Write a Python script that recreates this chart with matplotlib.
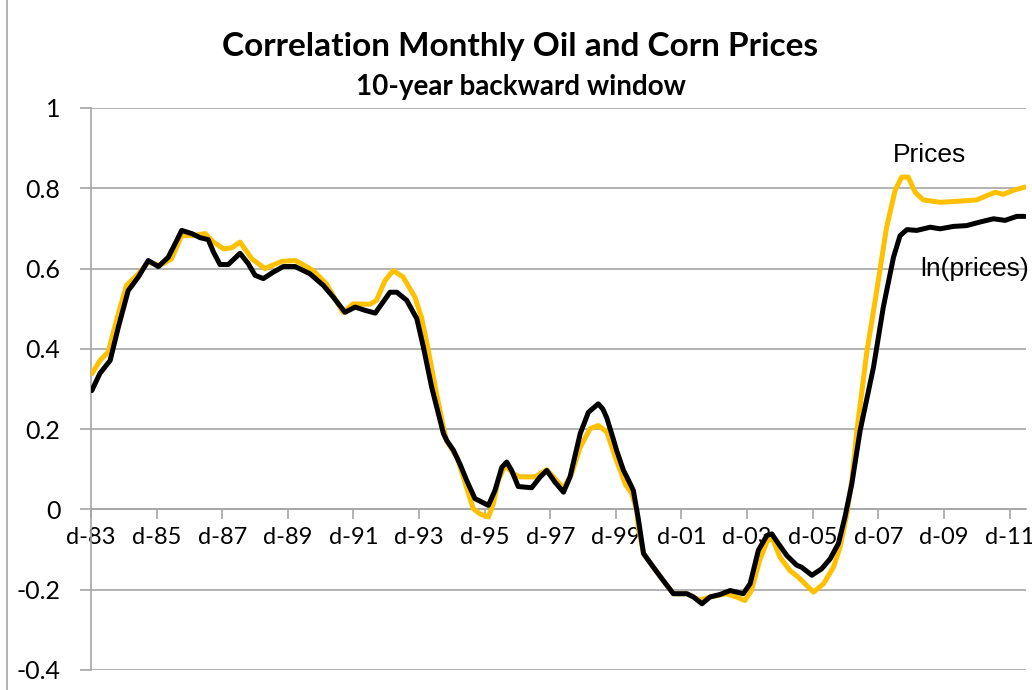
import matplotlib.pyplot as plt
from matplotlib.lines import Line2D

# decimal years (x) and correlations
ln_years = [1983.94, 1984.19, 1984.50, 1984.75, 1985.05, 1985.36, 1985.66, 1985.97,
            1986.27, 1986.53, 1986.68, 1986.99, 1987.24, 1987.49, 1987.65, 1987.85,
            1988.10, 1988.46, 1988.71, 1988.92, 1989.17, 1989.47, 1989.78, 1990.14,
            1990.39, 1990.59, 1991.00, 1991.30, 1991.66, 1991.97, 1992.27, 1992.58,
            1992.78, 1993.03, 1993.24, 1993.54, 1993.85, 1994.05, 1994.30, 1994.66,
            1994.76, 1994.96, 1995.17, 1995.37, 1995.62, 1996.03, 1996.23, 1996.44,
            1996.59, 1996.74, 1996.94, 1997.35, 1997.61, 1997.81, 1998.06, 1998.32,
            1998.52, 1998.83, 1999.08, 1999.38, 1999.52, 1999.64, 1999.84, 1999.94,
            2000.15, 2000.25, 2000.40, 2000.45, 2000.60, 2000.76, 2001.06, 2001.36,
            2001.67, 2002.08, 2002.28, 2002.54, 2002.79, 2003.09, 2003.40, 2003.80,
            2004.01, 2004.26, 2004.52, 2004.67, 2004.87, 2005.13, 2005.43, 2005.58,
            2005.89, 2006.19, 2006.45, 2006.70, 2006.90, 2007.11, 2007.36, 2007.77,
            2008.07, 2008.38, 2008.58, 2008.79, 2009.09, 2009.50, 2009.80, 2010.21,
            2010.61, 2011.02, 2011.43, 2011.78, 2012.14, 2012.39]
ln_corr = [0.296, 0.339, 0.371, 0.454, 0.545, 0.579, 0.620, 0.605,
           0.628, 0.670, 0.695, 0.687, 0.677, 0.672, 0.641, 0.610,
           0.610, 0.638, 0.612, 0.583, 0.575, 0.591, 0.605, 0.605,
           0.595, 0.587, 0.558, 0.529, 0.491, 0.504, 0.496, 0.489,
           0.512, 0.541, 0.541, 0.521, 0.475, 0.404, 0.305, 0.189,
           0.172, 0.148, 0.112, 0.072, 0.027, 0.010, 0.047, 0.105,
           0.118, 0.097, 0.057, 0.054, 0.081, 0.097, 0.068, 0.043,
           0.081, 0.189, 0.242, 0.263, 0.250, 0.228, 0.175, 0.147,
           0.097, 0.081, 0.056, 0.047, -0.023, -0.110, -0.144, -0.177,
           -0.210, -0.210, -0.218, -0.235, -0.218, -0.212, -0.202, -0.210,
           -0.185, -0.102, -0.065, -0.061, -0.085, -0.115, -0.139, -0.144,
           -0.164, -0.148, -0.123, -0.085, -0.019, 0.064, 0.195, 0.354,
           0.504, 0.628, 0.682, 0.697, 0.695, 0.703, 0.699, 0.705,
           0.707, 0.716, 0.724, 0.720, 0.730, 0.730]

price_years = [1983.94, 1984.19, 1984.44, 1984.75, 1985.00, 1985.36, 1985.66, 1986.02,
               1986.37, 1986.68, 1986.99, 1987.40, 1987.65, 1987.96, 1988.21, 1988.46,
               1988.82, 1989.22, 1989.73, 1990.14, 1990.29, 1990.69, 1991.09, 1991.60,
               1991.91, 1992.42, 1992.62, 1992.88, 1993.13, 1993.43, 1993.79, 1993.99,
               1994.20, 1994.45, 1994.66, 1994.76, 1995.07, 1995.17, 1995.57, 1995.77,
               1996.03, 1996.18, 1996.33, 1996.54, 1996.79, 1996.99, 1997.45, 1997.81,
               1998.11, 1998.32, 1998.57, 1998.83, 1999.13, 1999.38, 1999.64, 1999.90,
               2000.21, 2000.40, 2000.55, 2000.60, 2000.76, 2001.06, 2001.36, 2001.67,
               2002.08, 2002.48, 2002.79, 2003.29, 2003.59, 2003.85, 2004.05, 2004.30,
               2004.56, 2004.71, 2004.92, 2005.22, 2005.48, 2005.94, 2006.25, 2006.55,
               2006.75, 2006.96, 2007.11, 2007.26, 2007.56, 2007.87, 2008.17, 2008.43,
               2008.63, 2008.83, 2009.04, 2009.29, 2009.80, 2010.41, 2010.92, 2011.23,
               2011.48, 2011.73, 2012.04, 2012.39]
price_corr = [0.338, 0.371, 0.392, 0.488, 0.558, 0.587, 0.616, 0.608,
              0.624, 0.682, 0.682, 0.687, 0.666, 0.649, 0.652, 0.666,
              0.624, 0.600, 0.618, 0.620, 0.614, 0.595, 0.562, 0.491,
              0.512, 0.511, 0.521, 0.570, 0.595, 0.579, 0.529, 0.479,
              0.396, 0.288, 0.205, 0.170, 0.130, 0.105, 0.002, -0.011,
              -0.019, 0.014, 0.072, 0.110, 0.089, 0.081, 0.081, 0.099,
              0.072, 0.052, 0.089, 0.155, 0.201, 0.209, 0.193, 0.130,
              0.062, 0.040, -0.002, -0.044, -0.110, -0.144, -0.177, -0.210,
              -0.210, -0.226, -0.218, -0.210, -0.218, -0.227, -0.202, -0.127,
              -0.073, -0.077, -0.119, -0.152, -0.169, -0.206, -0.185, -0.144,
              -0.094, -0.011, 0.072, 0.193, 0.388, 0.545, 0.703, 0.795,
              0.828, 0.828, 0.790, 0.771, 0.765, 0.768, 0.771, 0.782,
              0.790, 0.785, 0.795, 0.803]

tick_years = [1983.917 + 2 * k for k in range(15)]
tick_labels = ["d-%02d" % ((83 + 2 * k) % 100) for k in range(15)]
y_ticks = [-0.4, -0.2, 0, 0.2, 0.4, 0.6, 0.8, 1]
y_labels = ["-0.4", "-0.2", "0", "0.2", "0.4", "0.6", "0.8", "1"]

grey = "#a6a6a6"
gold = "#ffc000"

plt.rcParams["font.family"] = ["Lato", "DejaVu Sans"]

fig = plt.figure(figsize=(10.32, 6.9), dpi=100)
ax = fig.add_axes([0.0882, 0.029, 0.906, 0.8145])

ax.plot(price_years, price_corr, color=gold, lw=3.6, solid_capstyle="round", zorder=3)
ax.plot(ln_years, ln_corr, color="black", lw=3.6, solid_capstyle="round", zorder=4)

# spine position first: moving it resets the tick label styles
for s in ["top", "right"]:
    ax.spines[s].set_visible(False)
ax.spines["bottom"].set_position(("data", 0))
ax.spines["left"].set_color(grey)
ax.spines["left"].set_linewidth(1.2)
ax.spines["bottom"].set_color(grey)
ax.spines["bottom"].set_linewidth(1.2)

ax.set_xlim(1983.917, 2012.42)
ax.set_ylim(-0.4, 1.0)
ax.set_axisbelow(True)

ax.set_yticks(y_ticks)
ax.set_yticklabels(y_labels)
ax.set_xticks(tick_years)
ax.set_xticklabels(tick_labels)

ax.grid(axis="y", color=grey, lw=1.2)
ax.tick_params(axis="y", length=8, width=1.2, color=grey, pad=14, labelsize=18)
ax.tick_params(axis="x", length=7, width=1.2, color=grey, pad=6, labelsize=17)

ax.text(2008.37, 0.884, "Prices", family="Liberation Sans", fontsize=19,
        ha="left", va="center")
ax.text(2009.19, 0.6, "ln(prices)", family="Liberation Sans", fontsize=19,
        ha="left", va="center")

fig.text(0.504, 0.932, "Correlation Monthly Oil and Corn Prices",
         fontweight="bold", fontsize=24, ha="center", va="center")
fig.text(0.505, 0.874, "10-year backward window",
         fontweight="bold", fontsize=20, ha="center", va="center")

# outer frame line on the left edge of the chart area
fig.add_artist(Line2D([7 / 1032, 7 / 1032], [0, 1], color=grey, lw=1.2,
                      transform=fig.transFigure))

fig.savefig("out.png", dpi=100)
